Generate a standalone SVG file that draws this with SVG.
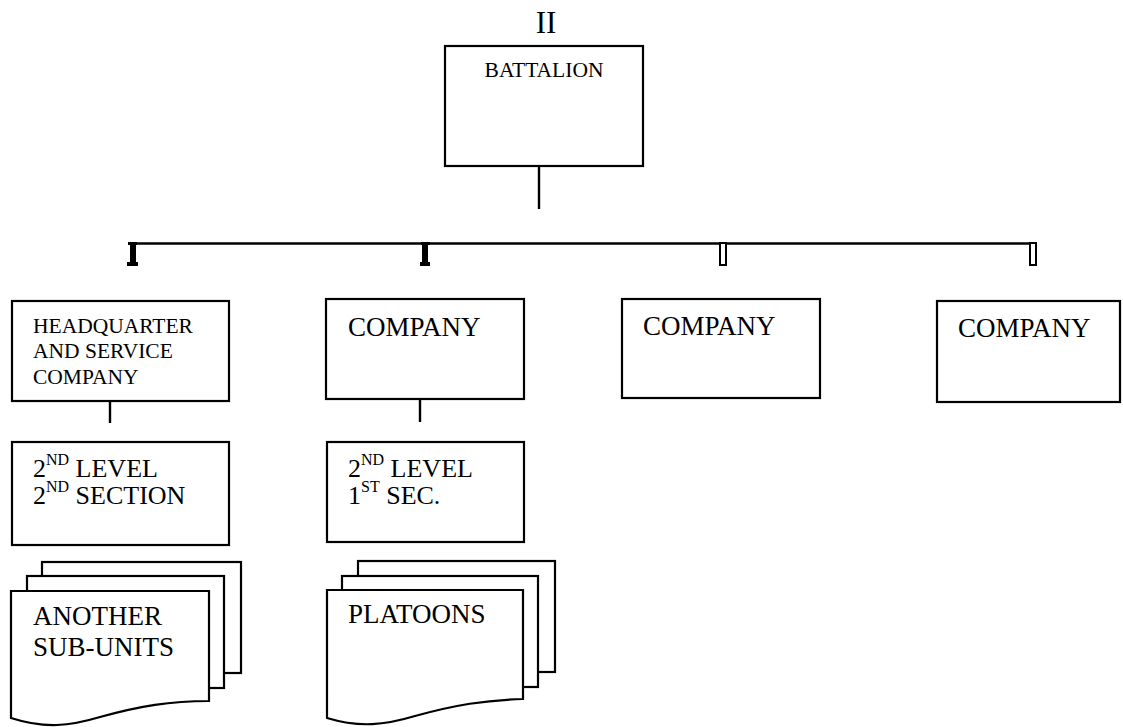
<svg xmlns="http://www.w3.org/2000/svg" width="1123" height="727" viewBox="0 0 1123 727" font-family="'Liberation Serif', 'Times New Roman', serif">
  <style>
    .box { fill: #fff; stroke: #000; stroke-width: 2.2; }
    .sheet { fill: #fff; stroke: #000; stroke-width: 2.2; stroke-linejoin: miter; }
    .line { fill: none; stroke: #000; stroke-width: 2.4; }
    .tick { fill: #000; stroke: none; }
    .tick-hollow { fill: #fff; stroke: #000; stroke-width: 2; }
    text { font-family: "Liberation Serif", "Times New Roman", serif; fill: #000; }
    .t21 { font-size: 21.5px; }
    .t27 { font-size: 27px; }
    .t26 { font-size: 26px; }
    .sup { font-size: 16px; }
  </style>

  <!-- connectors -->
  <g id="connectors">
    <line class="line" x1="539" y1="166" x2="539" y2="209"/>
    <line class="line" x1="129" y1="243.5" x2="1037" y2="243.5"/>
    <!-- drops to each company -->
    <path class="tick" d="M128,242 H137 V245 H136 V262 H138 V266 H127 V262 H130 V245 H128 Z"/>
    <path class="tick" d="M421,242 H430 V245 H428 V262 H430 V266 H420 V262 H422 V245 H421 Z"/>
    <rect class="tick-hollow" x="720" y="243" width="6" height="22"/>
    <rect class="tick-hollow" x="1030" y="243" width="6" height="22"/>
    <line class="line" x1="110" y1="401" x2="110" y2="423"/>
    <line class="line" x1="420" y1="399" x2="420" y2="422"/>
  </g>

  <!-- echelon marker -->
  <text id="echelon" x="546" y="33" font-size="31" text-anchor="middle">II</text>

  <g id="battalion">
    <rect class="box" x="445" y="46" width="198" height="120"/>
    <text class="t21" x="544" y="77" text-anchor="middle">BATTALION</text>
  </g>

  <g id="hq-company">
    <rect class="box" x="12" y="301" width="217" height="100"/>
    <text class="t21" x="33" y="333">HEADQUARTER</text>
    <text class="t21" x="33" y="358">AND SERVICE</text>
    <text class="t21" x="33" y="384">COMPANY</text>
  </g>

  <g id="company-1">
    <rect class="box" x="326" y="299" width="198" height="100"/>
    <text class="t27" x="348" y="336">COMPANY</text>
  </g>

  <g id="company-2">
    <rect class="box" x="622" y="299" width="198" height="99"/>
    <text class="t27" x="643" y="335">COMPANY</text>
  </g>

  <g id="company-3">
    <rect class="box" x="937" y="301" width="183" height="101"/>
    <text class="t27" x="958" y="337">COMPANY</text>
  </g>

  <g id="hq-second-level">
    <rect class="box" x="12" y="442" width="217" height="103"/>
    <text class="t26" x="33" y="477">2<tspan class="sup" dy="-12">ND</tspan><tspan dy="12"> LEVEL</tspan></text>
    <text class="t26" x="33" y="504">2<tspan class="sup" dy="-12">ND</tspan><tspan dy="12"> SECTION</tspan></text>
  </g>

  <g id="company-second-level">
    <rect class="box" x="327" y="442" width="197" height="100"/>
    <text class="t26" x="348" y="477">2<tspan class="sup" dy="-12">ND</tspan><tspan dy="12"> LEVEL</tspan></text>
    <text class="t26" x="348" y="504">1<tspan class="sup" dy="-12">ST</tspan><tspan dy="12"> SEC.</tspan></text>
  </g>

  <g id="another-sub-units">
    <rect class="sheet" x="42" y="562" width="199" height="111"/>
    <rect class="sheet" x="27" y="576" width="197" height="112"/>
    <path class="sheet" d="M11,591 H209 V701 C170,701 140,706 100,717 C70,726 45,729 11,718 Z"/>
    <text class="t27" x="33" y="625">ANOTHER</text>
    <text class="t27" x="33" y="656">SUB-UNITS</text>
  </g>

  <g id="platoons">
    <rect class="sheet" x="358" y="561" width="197" height="111"/>
    <rect class="sheet" x="342" y="576" width="196" height="111"/>
    <path class="sheet" d="M327,590 H523 V699 C485,700 455,705 415,716 C385,725 360,728 327,718 Z"/>
    <text class="t27" x="348" y="623">PLATOONS</text>
  </g>
</svg>
